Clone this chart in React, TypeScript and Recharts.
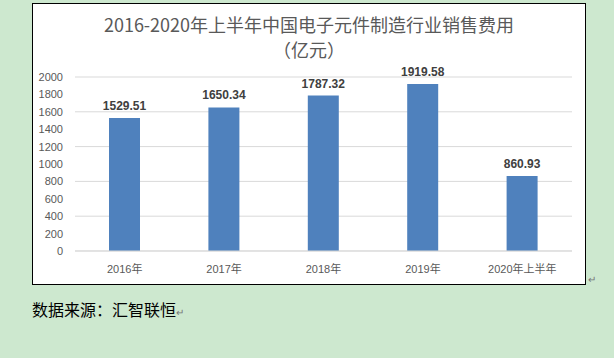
import { BarChart, Bar, XAxis, YAxis, CartesianGrid, LabelList } from "recharts";

const categories = ["2016年", "2017年", "2018年", "2019年", "2020年上半年"];
const salesCost = [1529.51, 1650.34, 1787.32, 1919.58, 860.93];
const yTicks = [0, 200, 400, 600, 800, 1000, 1200, 1400, 1600, 1800, 2000];

const data = categories.map((name, i) => ({ name, value: salesCost[i] }));

const font = '"Liberation Sans", "Noto Sans CJK SC", sans-serif';
const cjk = '"Noto Sans CJK SC", sans-serif';

const titleStyle = {
  position: "absolute" as const,
  left: 0,
  width: 552,
  textAlign: "center" as const,
  color: "#595959",
  fontSize: 18,
  lineHeight: "20px",
  fontFamily: cjk,
};

export default function App() {
  return (
    <div
      style={{
        position: "fixed",
        left: 0,
        top: 0,
        width: 614,
        height: 358,
        background: "#cde8cf",
        fontFamily: font,
        overflow: "hidden",
      }}
    >
      <div
        style={{
          position: "absolute",
          left: 32,
          top: 3,
          width: 552,
          height: 280,
          background: "#fff",
          border: "1.5px solid #000",
        }}
      >
        <div style={{ ...titleStyle, top: 10 }}>
          2016-2020年上半年中国电子元件制造行业销售费用
        </div>
        <div style={{ ...titleStyle, top: 35 }}>（亿元）</div>
        <BarChart
          width={552}
          height={280}
          data={data}
          margin={{ top: 73, right: 13, bottom: 0, left: 0 }}
        >
          <CartesianGrid vertical={false} stroke="#d9d9d9" />
          <XAxis
            dataKey="name"
            axisLine={{ stroke: "#d9d9d9" }}
            tickLine={false}
            height={33}
            tick={{ fill: "#595959", fontSize: 11, fontFamily: font }}
            tickMargin={8}
          />
          <YAxis
            domain={[0, 2000]}
            ticks={yTicks}
            axisLine={false}
            tickLine={false}
            width={42}
            tick={{ fill: "#595959", fontSize: 11, fontFamily: font }}
            tickMargin={6}
          />
          <Bar dataKey="value" fill="#4f81bd" barSize={31} isAnimationActive={false}>
            <LabelList
              dataKey="value"
              position="top"
              offset={8}
              fill="#404040"
              fontSize={12}
              fontWeight="bold"
              fontFamily={font}
              formatter={(v: any) => Number(v).toFixed(2)}
            />
          </Bar>
        </BarChart>
      </div>
      <div
        style={{
          position: "absolute",
          left: 588,
          top: 274,
          fontSize: 10,
          color: "#777",
        }}
      >
        ↵
      </div>
      <div
        style={{
          position: "absolute",
          left: 32,
          top: 299,
          fontSize: 16,
          color: "#000",
          fontFamily: cjk,
          lineHeight: "20px",
        }}
      >
        数据来源：汇智联恒
        <span style={{ fontSize: 10, color: "#777" }}>↵</span>
      </div>
    </div>
  );
}
